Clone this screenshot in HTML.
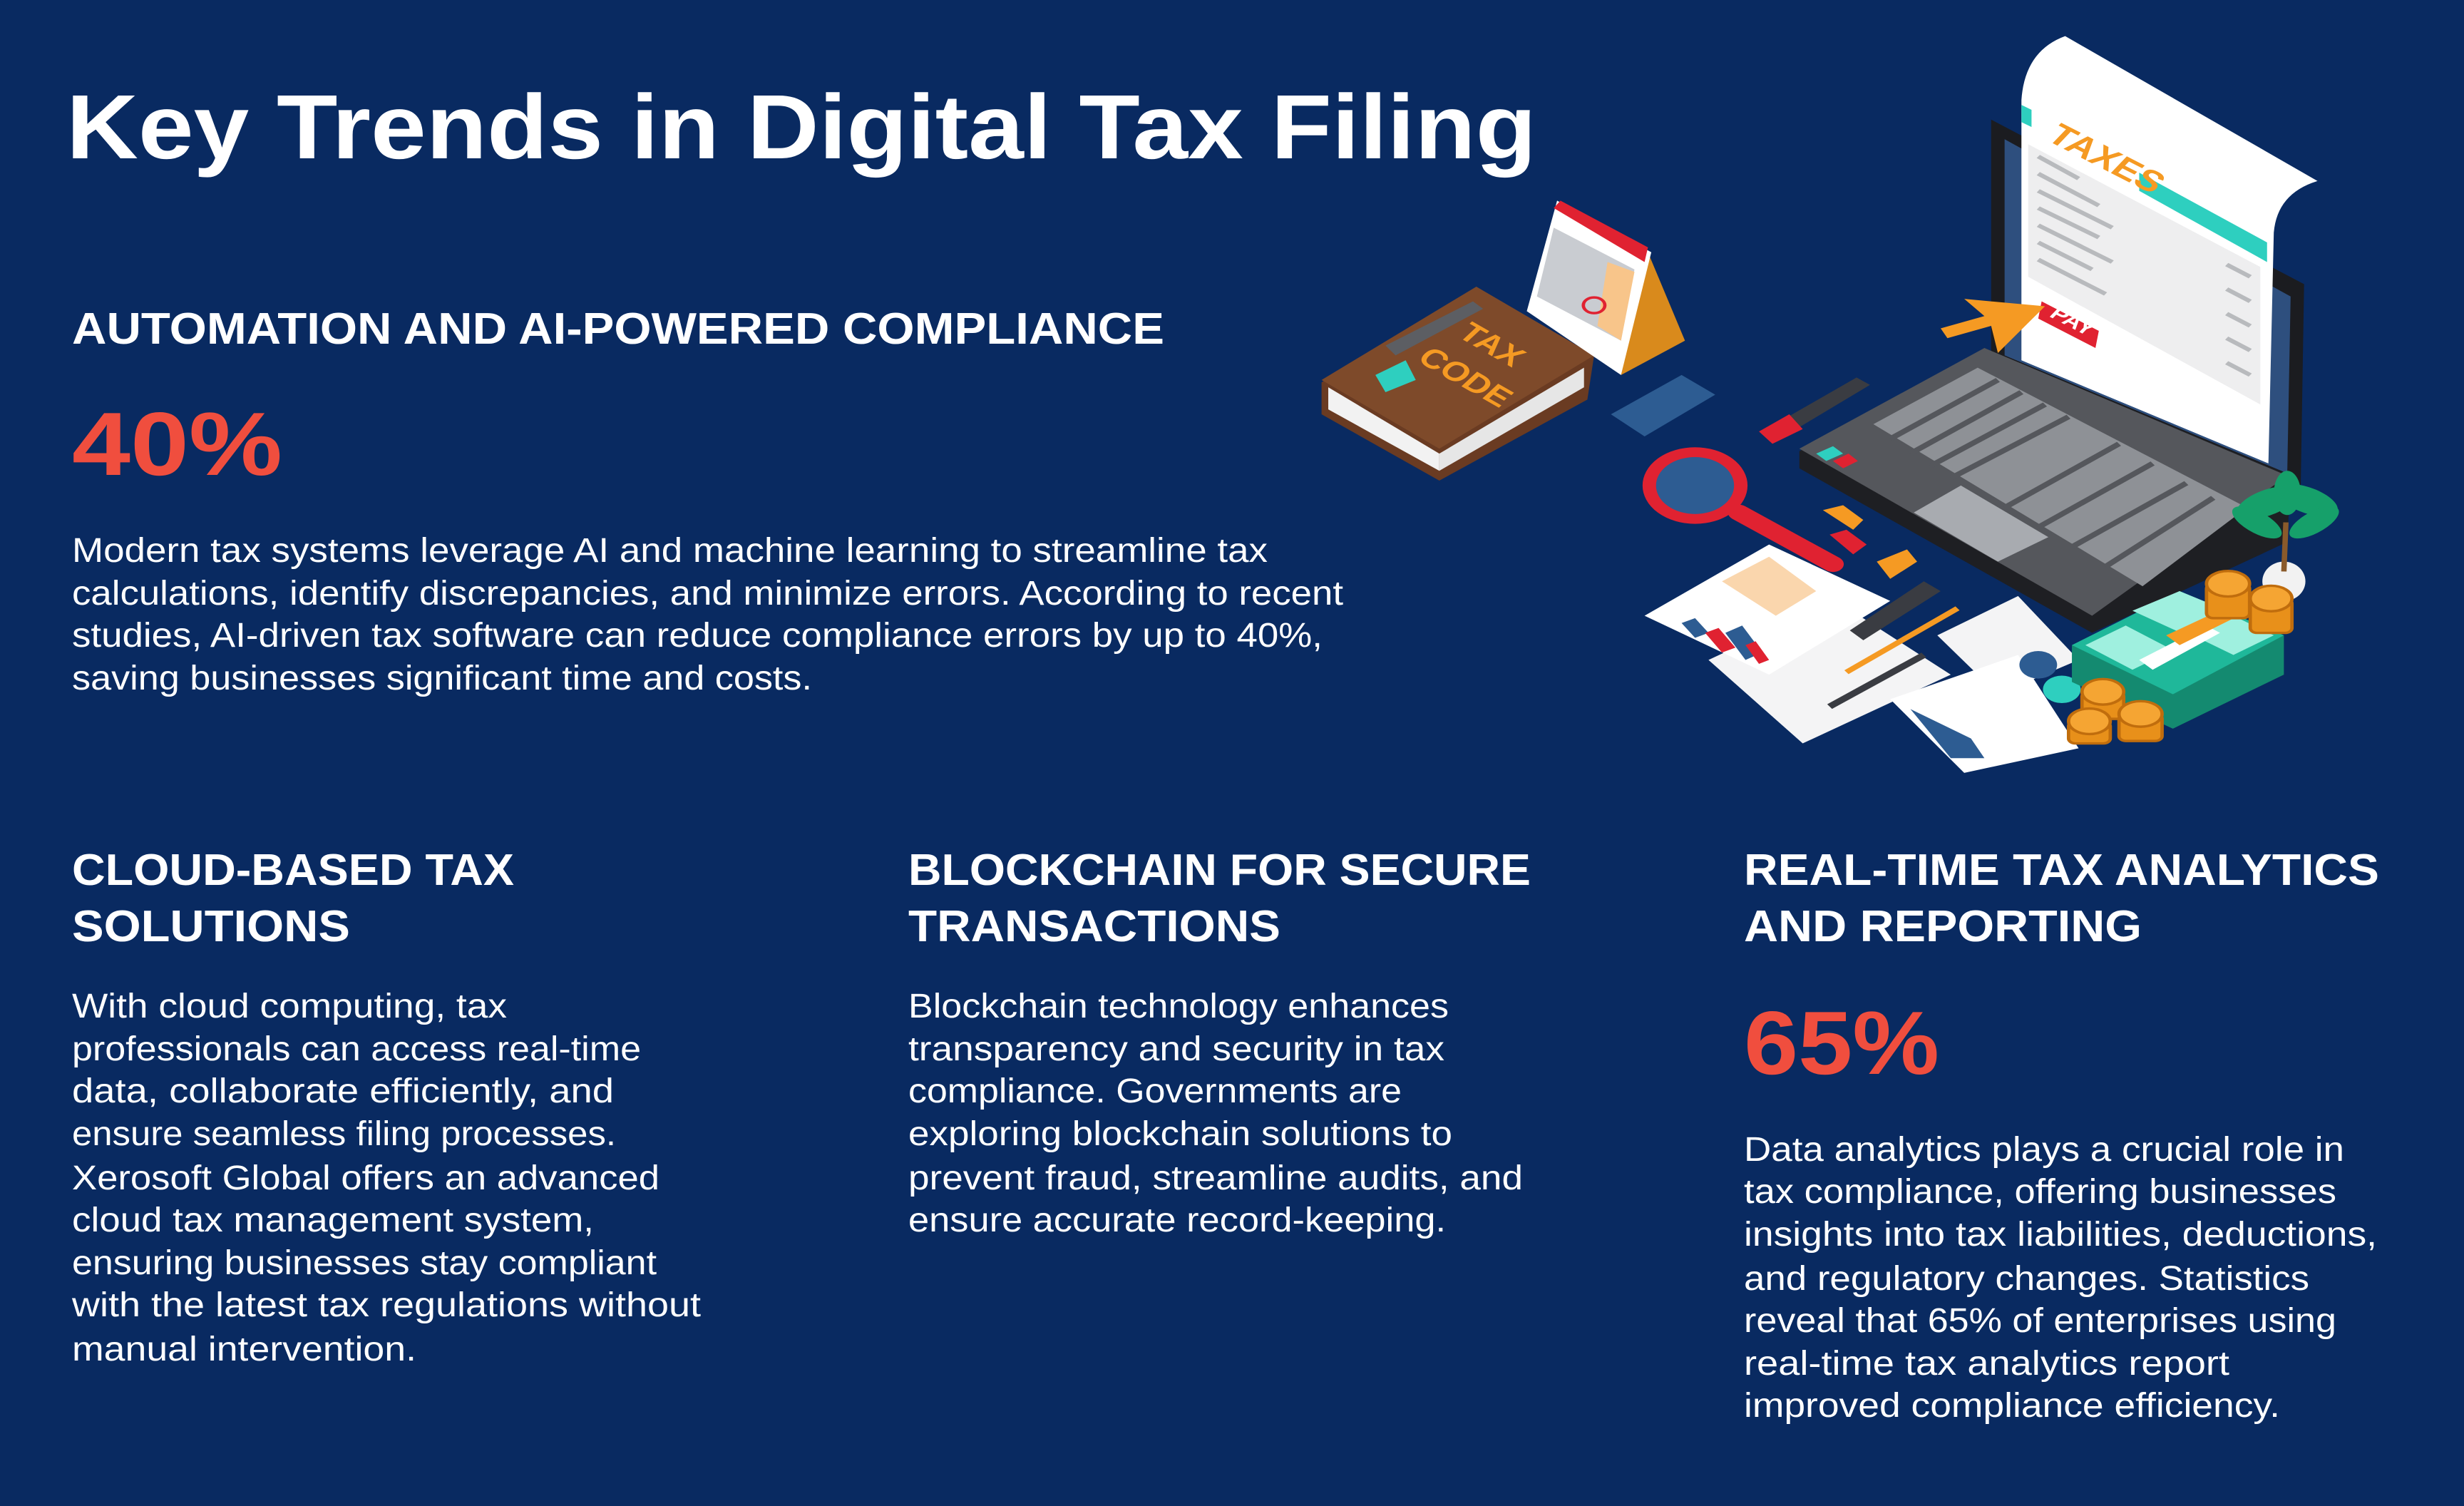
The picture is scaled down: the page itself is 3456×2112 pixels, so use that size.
<!DOCTYPE html>
<html><head><meta charset="utf-8"><style>
html,body{margin:0;padding:0;background:#092a61;}
svg{display:block}
text{font-family:"Liberation Sans",sans-serif;}
</style></head><body>
<svg width="3456" height="2112" viewBox="0 0 3456 2112" xmlns="http://www.w3.org/2000/svg">
<rect width="3456" height="2112" fill="#092a61"/>
<g fill="#fff">
<text x="93" y="222" font-size="128" font-weight="bold" textLength="2062" lengthAdjust="spacingAndGlyphs">Key Trends in Digital Tax Filing</text>
<text x="101" y="482" font-size="62" font-weight="bold" textLength="1532" lengthAdjust="spacingAndGlyphs">AUTOMATION AND AI-POWERED COMPLIANCE</text>
<text x="101" y="666" font-size="126" font-weight="bold" fill="#f04e3e" textLength="295" lengthAdjust="spacingAndGlyphs">40%</text>
<g font-size="48">
<text x="101" y="788" textLength="1677" lengthAdjust="spacingAndGlyphs">Modern tax systems leverage AI and machine learning to streamline tax</text>
<text x="101" y="848" textLength="1783" lengthAdjust="spacingAndGlyphs">calculations, identify discrepancies, and minimize errors. According to recent</text>
<text x="101" y="907" textLength="1754" lengthAdjust="spacingAndGlyphs">studies, AI-driven tax software can reduce compliance errors by up to 40%,</text>
<text x="101" y="967" textLength="1038" lengthAdjust="spacingAndGlyphs">saving businesses significant time and costs.</text>
</g>
<g font-size="62" font-weight="bold">
<text x="101" y="1241" textLength="620" lengthAdjust="spacingAndGlyphs">CLOUD-BASED TAX</text>
<text x="101" y="1320" textLength="390" lengthAdjust="spacingAndGlyphs">SOLUTIONS</text>
<text x="1274" y="1241" textLength="873" lengthAdjust="spacingAndGlyphs">BLOCKCHAIN FOR SECURE</text>
<text x="1274" y="1320" textLength="522" lengthAdjust="spacingAndGlyphs">TRANSACTIONS</text>
<text x="2446" y="1241" textLength="891" lengthAdjust="spacingAndGlyphs">REAL-TIME TAX ANALYTICS</text>
<text x="2446" y="1320" textLength="558" lengthAdjust="spacingAndGlyphs">AND REPORTING</text>
</g>
<g font-size="48">
<text x="101" y="1427" textLength="610" lengthAdjust="spacingAndGlyphs">With cloud computing, tax</text>
<text x="101" y="1487" textLength="798" lengthAdjust="spacingAndGlyphs">professionals can access real-time</text>
<text x="101" y="1546" textLength="760" lengthAdjust="spacingAndGlyphs">data, collaborate efficiently, and</text>
<text x="101" y="1606" textLength="763" lengthAdjust="spacingAndGlyphs">ensure seamless filing processes.</text>
<text x="101" y="1668" textLength="824" lengthAdjust="spacingAndGlyphs">Xerosoft Global offers an advanced</text>
<text x="101" y="1727" textLength="732" lengthAdjust="spacingAndGlyphs">cloud tax management system,</text>
<text x="101" y="1787" textLength="820" lengthAdjust="spacingAndGlyphs">ensuring businesses stay compliant</text>
<text x="101" y="1846" textLength="882" lengthAdjust="spacingAndGlyphs">with the latest tax regulations without</text>
<text x="101" y="1908" textLength="483" lengthAdjust="spacingAndGlyphs">manual intervention.</text>

<text x="1274" y="1427" textLength="758" lengthAdjust="spacingAndGlyphs">Blockchain technology enhances</text>
<text x="1274" y="1487" textLength="752" lengthAdjust="spacingAndGlyphs">transparency and security in tax</text>
<text x="1274" y="1546" textLength="692" lengthAdjust="spacingAndGlyphs">compliance. Governments are</text>
<text x="1274" y="1606" textLength="763" lengthAdjust="spacingAndGlyphs">exploring blockchain solutions to</text>
<text x="1274" y="1668" textLength="862" lengthAdjust="spacingAndGlyphs">prevent fraud, streamline audits, and</text>
<text x="1274" y="1727" textLength="754" lengthAdjust="spacingAndGlyphs">ensure accurate record-keeping.</text>

<text x="2446" y="1628" textLength="842" lengthAdjust="spacingAndGlyphs">Data analytics plays a crucial role in</text>
<text x="2446" y="1687" textLength="831" lengthAdjust="spacingAndGlyphs">tax compliance, offering businesses</text>
<text x="2446" y="1747" textLength="888" lengthAdjust="spacingAndGlyphs">insights into tax liabilities, deductions,</text>
<text x="2446" y="1809" textLength="793" lengthAdjust="spacingAndGlyphs">and regulatory changes. Statistics</text>
<text x="2446" y="1868" textLength="831" lengthAdjust="spacingAndGlyphs">reveal that 65% of enterprises using</text>
<text x="2446" y="1928" textLength="681" lengthAdjust="spacingAndGlyphs">real-time tax analytics report</text>
<text x="2446" y="1987" textLength="752" lengthAdjust="spacingAndGlyphs">improved compliance efficiency.</text>
</g>
<text x="2446" y="1506" font-size="126" font-weight="bold" fill="#f04e3e" textLength="274" lengthAdjust="spacingAndGlyphs">65%</text>
</g>

<!-- illustration -->
<g transform="translate(1830,30) scale(0.9439,0.6888)">
  <!-- laptop screen -->
  <polygon points="1020,200 1485,535 1480,950 1020,690" fill="#1b1c20"/>
  <polygon points="1040,240 1465,560 1460,920 1040,680" fill="#2e4f7e"/>
  <!-- paper -->
  <path d="M1065,160 Q1070,60 1130,30 L1505,325 Q1445,350 1440,430 L1432,900 L1065,690 Z" fill="#fff"/>
  <polygon points="1065,170 1080,180 1080,215 1065,205" fill="#2ecfbf"/>
  <polygon points="1240,308 1430,450 1430,490 1240,345" fill="#2ecfbf"/>
  <polygon points="1075,250 1420,500 1420,780 1075,520" fill="#eeeeef"/>
  <g stroke="#b8babd" stroke-width="8">
    <line x1="1090" y1="275" x2="1150" y2="320"/>
    <line x1="1090" y1="310" x2="1180" y2="375"/>
    <line x1="1090" y1="345" x2="1200" y2="420"/>
    <line x1="1090" y1="380" x2="1180" y2="440"/>
    <line x1="1090" y1="415" x2="1200" y2="490"/>
    <line x1="1090" y1="450" x2="1170" y2="505"/>
    <line x1="1090" y1="485" x2="1190" y2="555"/>
    <line x1="1370" y1="495" x2="1405" y2="520"/>
    <line x1="1370" y1="545" x2="1405" y2="570"/>
    <line x1="1370" y1="595" x2="1405" y2="620"/>
    <line x1="1370" y1="645" x2="1405" y2="670"/>
    <line x1="1370" y1="695" x2="1405" y2="720"/>
  </g>
  <text x="1100" y="240" font-size="60" font-weight="bold" fill="#f59a23" transform="rotate(35 1100 240) scale(1,1)">TAXES</text>
  <polygon points="1095,570 1180,630 1175,665 1090,605" fill="#e02231"/>
  <text x="1105" y="600" font-size="38" font-weight="bold" fill="#fff" transform="rotate(35 1105 600)">PAY</text>
  <!-- laptop base -->
  <polygon points="735,875 1010,665 1465,925 1460,1060 1170,1245 735,910" fill="#1e1f23"/>
  <polygon points="735,870 1010,665 1460,925 1170,1210" fill="#55575c"/>
  <polygon points="845,820 1000,705 1400,990 1245,1150" fill="#8e9196"/>
  <g stroke="#55575c" stroke-width="10">
    <line x1="870" y1="850" x2="1030" y2="730"/>
    <line x1="900" y1="880" x2="1065" y2="755"/>
    <line x1="930" y1="905" x2="1100" y2="780"/>
    <line x1="960" y1="930" x2="1135" y2="805"/>
    <line x1="1040" y1="990" x2="1210" y2="860"/>
    <line x1="1090" y1="1030" x2="1260" y2="900"/>
    <line x1="1140" y1="1070" x2="1310" y2="940"/>
    <line x1="1190" y1="1110" x2="1350" y2="970"/>
  </g>
  <polygon points="905,1000 975,945 1105,1050 1030,1100" fill="#a8abb0"/>
  <polygon points="760,880 785,865 800,880 775,895" fill="#2ecfbf"/>
  <polygon points="785,895 808,880 822,895 800,910" fill="#e02231"/>
  <!-- arrow -->
  <polygon points="1100,580 980,565 1010,600 945,625 955,645 1020,620 1030,675" fill="#f59a23"/>
  <!-- book -->
  <polygon points="25,735 255,545 430,680 420,770 200,935 25,800" fill="#6a3b22"/>
  <polygon points="35,745 200,880 200,915 35,790" fill="#f2f2f2"/>
  <polygon points="200,880 415,705 415,745 200,915" fill="#e6e6e6"/>
  <polygon points="25,730 255,540 430,680 200,870" fill="#7e4a2a"/>
  <polygon points="120,660 250,570 265,585 135,680" fill="#5c5e63"/>
  <polygon points="105,720 150,690 165,730 120,755" fill="#2ecfbf"/>
  <text x="225" y="640" font-size="55" font-weight="bold" fill="#f59a23" transform="rotate(38 225 640)">TAX</text>
  <text x="165" y="690" font-size="55" font-weight="bold" fill="#f59a23" transform="rotate(38 165 690)">CODE</text>
  <!-- calendar -->
  <polygon points="470,720 510,470 565,650" fill="#d98a1c"/>
  <polygon points="330,590 375,365 515,470 470,720" fill="#fff"/>
  <polygon points="370,380 380,365 510,460 505,490" fill="#e02231"/>
  <polygon points="345,560 370,420 490,505 470,650" fill="#c9ccd1"/>
  <polygon points="450,490 490,510 470,650 435,620" fill="#f8c58a"/>
  <circle cx="430" cy="578" r="16" fill="none" stroke="#e02231" stroke-width="5"/>
  <!-- card -->
  <polygon points="455,800 560,720 610,760 505,845" fill="#2d5c92"/>
  <!-- marker -->
  <polygon points="680,835 820,725 840,740 700,855" fill="#3a3c42"/>
  <polygon points="675,835 720,800 740,830 695,860" fill="#e02231"/>
  <!-- magnifier -->
  <line x1="645" y1="1000" x2="785" y2="1105" stroke="#e02231" stroke-width="32" stroke-linecap="round"/>
  <circle cx="580" cy="945" r="68" fill="#2d5c92" stroke="#e02231" stroke-width="20"/>
  <!-- small items -->
  <polygon points="770,995 800,985 830,1015 815,1035" fill="#f59a23"/>
  <polygon points="780,1045 805,1035 835,1065 815,1085" fill="#e02231"/>
  <polygon points="850,1100 895,1075 910,1100 870,1135" fill="#f59a23"/>
  <!-- papers -->
  <polygon points="600,1300 790,1180 960,1330 740,1470" fill="#f4f4f5"/>
  <polygon points="505,1210 690,1065 870,1180 690,1330" fill="#fff"/>
  <g fill="#2d5c92">
    <polygon points="560,1225 580,1215 600,1245 580,1255"/>
    <polygon points="625,1245 650,1230 680,1285 655,1300"/>
  </g>
  <g fill="#e02231">
    <polygon points="595,1245 615,1235 640,1275 620,1285"/>
    <polygon points="655,1270 670,1262 690,1300 675,1308"/>
  </g>
  <polygon points="620,1140 690,1090 760,1160 700,1210" fill="#f8c58a" opacity=".7"/>
  <polygon points="940,1250 1060,1170 1150,1300 1030,1370" fill="#f4f4f5"/>
  <polygon points="870,1380 1060,1290 1150,1480 980,1530" fill="#fff"/>
  <polygon points="900,1400 990,1460 1010,1500 960,1500" fill="#2d5c92"/>
  <circle cx="1090" cy="1310" r="28" fill="#2d5c92"/>
  <circle cx="1125" cy="1360" r="28" fill="#2ecfbf"/>
  <line x1="805" y1="1325" x2="970" y2="1195" stroke="#f59a23" stroke-width="10"/>
  <line x1="780" y1="1395" x2="920" y2="1290" stroke="#3a3c42" stroke-width="12"/>
  <polygon points="810,1240 920,1140 945,1160 830,1260" fill="#3a3c42"/>
  <!-- plant -->
  <ellipse cx="1455" cy="1140" rx="32" ry="40" fill="#f2f2f2"/>
  <line x1="1455" y1="1120" x2="1458" y2="1020" stroke="#8a5a2b" stroke-width="8"/>
  <g fill="#16a06a">
    <ellipse cx="1430" cy="980" rx="50" ry="25" transform="rotate(-30 1430 980)"/>
    <ellipse cx="1490" cy="975" rx="50" ry="25" transform="rotate(30 1490 975)"/>
    <ellipse cx="1415" cy="1020" rx="45" ry="20" transform="rotate(40 1415 1020)"/>
    <ellipse cx="1500" cy="1020" rx="45" ry="20" transform="rotate(-40 1500 1020)"/>
    <ellipse cx="1460" cy="960" rx="20" ry="45"/>
  </g>
  <!-- money -->
  <polygon points="1140,1270 1300,1160 1455,1250 1455,1330 1290,1440 1140,1345" fill="#148a70"/>
  <polygon points="1140,1270 1300,1160 1455,1250 1290,1370" fill="#1fb89a"/>
  <polygon points="1230,1200 1300,1160 1380,1205 1310,1250" fill="#9ff0df"/>
  <polygon points="1160,1270 1220,1230 1290,1280 1230,1320" fill="#9ff0df"/>
  <polygon points="1320,1250 1380,1210 1440,1250 1380,1290" fill="#9ff0df"/>
  <polygon points="1240,1300 1340,1230 1360,1245 1260,1320" fill="#fff"/>
  <polygon points="1280,1250 1390,1180 1410,1195 1300,1270" fill="#f59a23"/>
  <!-- coins -->
  <g fill="#e8901a" stroke="#c06d0d" stroke-width="5">
    <rect x="1340" y="1145" width="64" height="70" rx="10"/>
    <ellipse cx="1372" cy="1145" rx="32" ry="26" fill="#f5a533"/>
    <rect x="1405" y="1175" width="62" height="70" rx="10"/>
    <ellipse cx="1436" cy="1175" rx="31" ry="26" fill="#f5a533"/>
    <rect x="1155" y="1365" width="62" height="55" rx="10"/>
    <ellipse cx="1186" cy="1365" rx="31" ry="26" fill="#f5a533"/>
    <rect x="1135" y="1425" width="62" height="45" rx="10"/>
    <ellipse cx="1166" cy="1425" rx="31" ry="26" fill="#f5a533"/>
    <rect x="1210" y="1410" width="64" height="55" rx="10"/>
    <ellipse cx="1242" cy="1410" rx="32" ry="26" fill="#f5a533"/>
  </g>
</g>
</svg>
</body></html>
